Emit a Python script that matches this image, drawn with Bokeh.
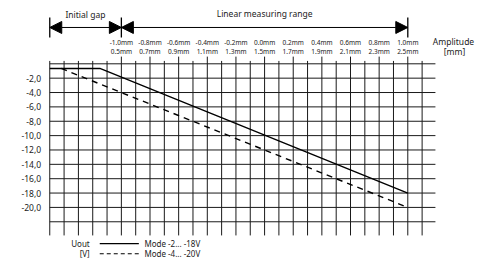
from bokeh.plotting import figure
from bokeh.models import Range1d, Arrow, NormalHead
from bokeh.core.properties import value
from bokeh.embed import file_html
from bokeh.resources import INLINE

# ---- data ----
amp_top = [-1.0, -0.8, -0.6, -0.4, -0.2, 0.0, 0.2, 0.4, 0.6, 0.8, 1.0]
amp_top_labels = ["-1.0mm", "-0.8mm", "-0.6mm", "-0.4mm", "-0.2mm", "0.0mm",
                  "0.2mm", "0.4mm", "0.6mm", "0.8mm", "1.0mm"]
amp_bottom_labels = ["0.5mm", "0.7mm", "0.9mm", "1.1mm", "1.3mm", "1.5mm",
                     "1.7mm", "1.9mm", "2.1mm", "2.3mm", "2.5mm"]
y_ticks = [-2, -4, -6, -8, -10, -12, -14, -16, -18, -20]
y_tick_labels = ["-2,0", "-4,0", "-6,0", "-8,0", "-10,0", "-12,0", "-14,0",
                 "-16,0", "-18,0", "-20,0"]
x_grid = [round(-1.5 + 0.1 * i, 2) for i in range(27)]
y_grid = [0, -2, -4, -6, -8, -10, -12, -14, -16, -18, -20, -22]

mode_a_x = [-1.5, -1.15, 1.0]
mode_a_y = [-0.65, -0.65, -18.0]
mode_b_x = [-1.42, 1.0]
mode_b_y = [-0.65, -20.0]

FONT = value("Noto Sans")
INK = "#1a1a1a"

p = figure(width=484, height=263, output_backend="svg", toolbar_location=None,
           x_range=Range1d(-1.844, 1.5356), y_range=Range1d(-27.81, 8.816),
           min_border=0, min_border_left=0, min_border_right=0,
           min_border_top=0, min_border_bottom=0)
p.axis.visible = False
p.grid.visible = False
p.outline_line_color = None
p.background_fill_color = "white"
p.border_fill_color = "white"

# grid
x_right = 1.193
p.segment(x0=[-1.5] * len(y_grid), y0=y_grid, x1=[x_right] * len(y_grid), y1=y_grid,
          line_color=INK, line_width=1)
top_ext = [1.0 if any(abs(g - a) < 1e-6 for a in amp_top) else 0.4 for g in x_grid]
p.segment(x0=x_grid, y0=top_ext, x1=x_grid, y1=[-23.9] * len(x_grid),
          line_color=INK, line_width=1)

# curves
p.line(mode_a_x, mode_a_y, line_color="black", line_width=1.4)
p.line(mode_b_x, mode_b_y, line_color="black", line_width=1.4, line_dash="6 5")

# y tick labels
p.text(x=[-1.561] * len(y_ticks), y=y_ticks, text=y_tick_labels,
       text_font=FONT, text_font_size="8.5px", text_align="right",
       text_baseline="middle", text_color="#222")

# top amplitude labels
p.text(x=amp_top, y=[3.01] * len(amp_top), text=amp_top_labels,
       text_font=FONT, text_font_size="6.5px", text_align="center",
       text_baseline="middle", text_color="#222")
p.text(x=amp_top, y=[1.75] * len(amp_top), text=amp_bottom_labels,
       text_font=FONT, text_font_size="6.5px", text_align="center",
       text_baseline="middle", text_color="#222")
p.text(x=[1.319, 1.326], y=[3.1, 1.78], text=["Amplitude", "[mm]"],
       text_font=FONT, text_font_size="8.5px", text_align="center",
       text_baseline="middle", text_color="#222")

# range arrows
arrow_y = 5.06
p.segment(x0=[-1.5, -1.0, 1.0], y0=[6.46] * 3, x1=[-1.5, -1.0, 1.0], y1=[3.68] * 3,
          line_color="black", line_width=1.3)
for xs, xe in [(-1.5, -1.0), (-1.0, 1.0)]:
    p.add_layout(Arrow(x_start=xs, y_start=arrow_y, x_end=xe, y_end=arrow_y,
                       line_color="black", line_width=1,
                       start=NormalHead(size=12, fill_color="black", line_color="black"),
                       end=NormalHead(size=12, fill_color="black", line_color="black")))
p.text(x=[-1.251, 0.0], y=[6.87, 7.0], text=["Initial gap", "Linear measuring range"],
       text_font=FONT, text_font_size="8.5px", text_align="center",
       text_baseline="middle", text_color="#222")

# legend
p.text(x=[-1.221, -1.221], y=[-25.05, -26.45], text=["Uout", "[V]"],
       text_font=FONT, text_font_size="8px", text_align="right",
       text_baseline="middle", text_color="#222")
p.line([-1.151, -0.878], [-25.05, -25.05], line_color="black", line_width=1.2)
p.line([-1.151, -0.878], [-26.45, -26.45], line_color="black", line_width=1.2,
       line_dash="4 3")
p.text(x=[-0.839, -0.839], y=[-25.05, -26.45], text=["Mode -2... -18V", "Mode -4... -20V"],
       text_font=FONT, text_font_size="8px", text_align="left",
       text_baseline="middle", text_color="#222")

open("out.html", "w").write(file_html(p, INLINE))
